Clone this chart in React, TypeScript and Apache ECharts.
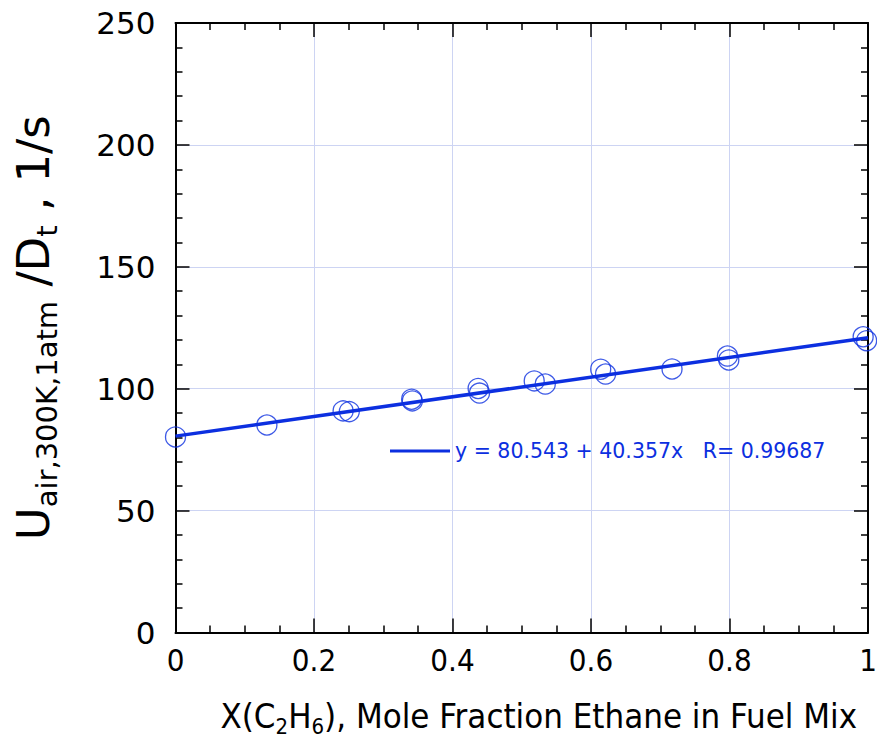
import React, { useEffect, useRef } from "react";
import * as echarts from "echarts";

// Measured data (mole fraction ethane vs. extinction strain rate)
const xValues = [0, 0.132, 0.242, 0.251, 0.341, 0.342, 0.437, 0.439, 0.518, 0.534, 0.614, 0.621, 0.717, 0.797, 0.799, 0.993, 0.998];
const yValues = [80.2, 85.1, 90.9, 90.6, 95.7, 95.0, 100.1, 98.2, 103.2, 101.9, 108.0, 106.0, 108.1, 113.4, 111.8, 121.3, 119.7];

// Linear fit y = a + b x
const fitIntercept = 80.543;
const fitSlope = 40.357;
const fitR = 0.99687;
const fitX = [0, 1];

const xTicks = { min: 0, max: 1, interval: 0.2 };
const yTicks = { min: 0, max: 250, interval: 50 };

const BLUE = "#0c2fe0";
const GRID = "#cdd4f3";
const FONT = "DejaVu Sans";
const FONT_C = "'DejaVu Sans Condensed', 'DejaVu Sans'";

export default function App() {
  const ref = useRef<HTMLDivElement>(null);
  useEffect(() => {
    const chart = echarts.init(ref.current!, null, { renderer: "svg" });
    const scatterData = xValues.map((x, i) => [x, yValues[i]]);
    const fitData = fitX.map((x) => [x, fitIntercept + fitSlope * x]);
    const commonTick = {
      axisLine: { show: true, onZero: false, lineStyle: { color: "#000", width: 2 } },
      axisTick: { show: true, inside: true, length: 14, lineStyle: { color: "#000", width: 1.5 } },
      minorTick: { show: true, length: 7, lineStyle: { color: "#000", width: 1.5 } },
    };
    chart.setOption({
      animation: false,
      grid: { left: 175.5, right: 9, top: 23, bottom: 105.5, containLabel: false, outerBoundsMode: "none" },
      xAxis: [
        {
          type: "value",
          ...xTicks,
          position: "bottom",
          ...commonTick,
          minorTick: { ...commonTick.minorTick, splitNumber: 4 },
          splitLine: { show: true, lineStyle: { color: GRID, width: 1 } },
          axisLabel: { color: "#000", fontFamily: FONT_C, fontSize: 31, margin: 12 },
          name: "{n|X(C}{s|2}{n|H}{s|6}{n|), Mole Fraction Ethane in Fuel Mix}",
          nameLocation: "middle",
          nameGap: 66,
          nameTextStyle: {
            padding: [0, 0, 0, 34],
            rich: {
              n: { fontFamily: FONT_C, fontSize: 34.5, color: "#000", lineHeight: 34, verticalAlign: "top" },
              s: { fontFamily: FONT_C, fontSize: 22, color: "#000", lineHeight: 22, padding: [17, 0, 0, 0], verticalAlign: "top" },
            },
          },
        },
        {
          type: "value",
          ...xTicks,
          position: "top",
          ...commonTick,
          minorTick: { ...commonTick.minorTick, splitNumber: 4 },
          splitLine: { show: false },
          axisLabel: { show: false },
        },
      ],
      yAxis: [
        {
          type: "value",
          ...yTicks,
          position: "left",
          ...commonTick,
          minorTick: { ...commonTick.minorTick, splitNumber: 5 },
          splitLine: { show: true, lineStyle: { color: GRID, width: 1 } },
          axisLabel: { color: "#000", fontFamily: FONT, fontSize: 31, margin: 20 },
          name: "{b|U}{s|air,300K,1atm}{b| /D}{s|t}{b| , 1/s}",
          nameLocation: "middle",
          nameRotate: 90,
          nameGap: 120,
          nameTextStyle: {
            rich: {
              b: { fontFamily: FONT, fontSize: 45, color: "#000", lineHeight: 45, verticalAlign: "top" },
              s: { fontFamily: FONT, fontSize: 29, color: "#000", lineHeight: 29, padding: [22, 0, 0, 0], verticalAlign: "top" },
            },
          },
        },
        {
          type: "value",
          ...yTicks,
          position: "right",
          ...commonTick,
          minorTick: { ...commonTick.minorTick, splitNumber: 5 },
          splitLine: { show: false },
          axisLabel: { show: false },
        },
      ],
      series: [
        {
          type: "line",
          data: fitData,
          xAxisIndex: 0,
          yAxisIndex: 0,
          showSymbol: false,
          symbol: "none",
          lineStyle: { color: BLUE, width: 3.5 },
          z: 2,
        },
        {
          type: "scatter",
          data: scatterData,
          xAxisIndex: 0,
          yAxisIndex: 0,
          symbol: "circle",
          symbolSize: 20,
          itemStyle: { color: "rgba(0,0,0,0)", borderColor: BLUE, borderWidth: 1.3 },
          z: 3,
        },
      ],
      graphic: [
        {
          type: "line",
          shape: { x1: 390, y1: 451, x2: 450, y2: 451 },
          style: { stroke: BLUE, lineWidth: 3 },
          z: 10,
        },
        {
          type: "text",
          x: 455,
          y: 451,
          style: {
            text: `y = ${fitIntercept} + ${fitSlope}x   R= ${fitR}`,
            fill: BLUE,
            font: `20.5px ${FONT}`,
            verticalAlign: "middle",
          },
          z: 10,
        },
      ],
    });
    return () => chart.dispose();
  }, []);
  return <div ref={ref} style={{ position: "absolute", left: 0, top: 0, width: 877, height: 738 }} />;
}
